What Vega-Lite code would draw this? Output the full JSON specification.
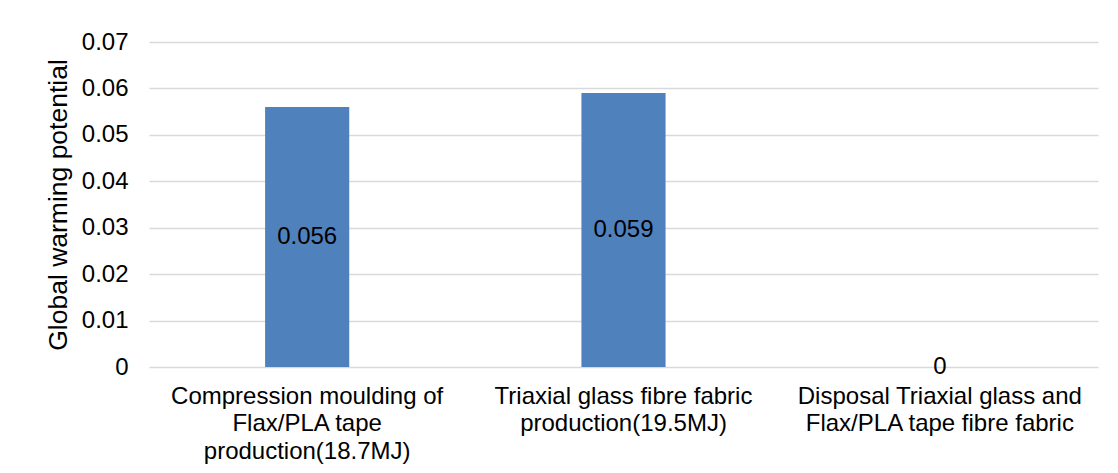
{
  "$schema": "https://vega.github.io/schema/vega-lite/v6.json",
  "autosize": {"type": "none"},
  "width": 949,
  "height": 325,
  "padding": {"left": 149, "top": 42, "right": 20, "bottom": 106},
  "background": "#ffffff",
  "config": {
    "font": "Liberation Sans",
    "view": {"stroke": null}
  },
  "data": {
    "values": [
      {"process": "Compression moulding of\nFlax/PLA tape\nproduction(18.7MJ)", "order": 1, "gwp": 0.056},
      {"process": "Triaxial glass fibre fabric\nproduction(19.5MJ)", "order": 2, "gwp": 0.059},
      {"process": "Disposal Triaxial glass and\nFlax/PLA tape fibre fabric", "order": 3, "gwp": 0}
    ]
  },
  "encoding": {
    "x": {
      "field": "process",
      "type": "nominal",
      "sort": {"field": "order"},
      "scale": {"paddingInner": 0.734, "paddingOuter": 0.367},
      "axis": {
        "title": null,
        "labelAngle": 0,
        "labelExpr": "split(datum.value, '\\n')",
        "labelFontSize": 24,
        "labelColor": "#000000",
        "labelLineHeight": 27.5,
        "labelPadding": 17,
        "labelBaseline": "top",
        "labelLimit": 0,
        "ticks": false,
        "domain": false
      }
    }
  },
  "resolve": {"scale": {"y": "independent"}},
  "layer": [
    {
      "mark": {"type": "bar", "color": "#4f81bd"},
      "encoding": {
        "y": {
          "field": "gwp",
          "type": "quantitative",
          "scale": {"domain": [0, 0.07], "nice": false},
          "axis": {
            "title": "Global warming potential",
            "titleFontSize": 26.5,
            "titleFontWeight": "normal",
            "titleColor": "#000000",
            "titlePadding": 9,
            "values": [0, 0.01, 0.02, 0.03, 0.04, 0.05, 0.06, 0.07],
            "format": ".2~f",
            "labelFontSize": 24,
            "labelColor": "#000000",
            "labelPadding": 21,
            "ticks": false,
            "domain": false,
            "gridColor": "#d9d9d9",
            "gridWidth": 1.5
          }
        }
      }
    },
    {
      "mark": {"type": "text", "fontSize": 24, "color": "#000000", "baseline": "middle", "align": "center"},
      "encoding": {
        "y": {"field": "gwp", "type": "quantitative", "scale": {"domain": [0, 0.14], "nice": false}, "axis": null},
        "text": {"field": "gwp", "type": "quantitative", "format": "~g"}
      }
    }
  ]
}
